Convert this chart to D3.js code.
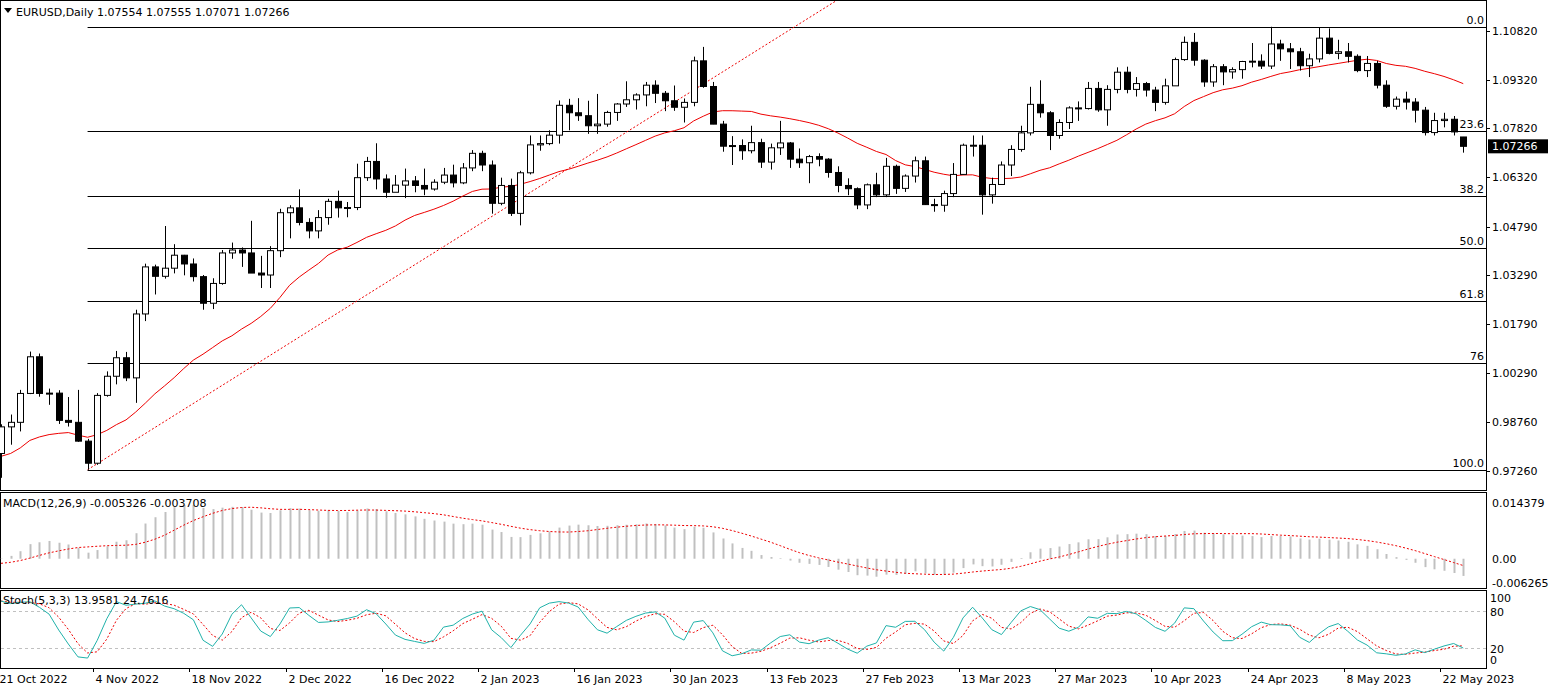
<!DOCTYPE html>
<html><head><meta charset="utf-8">
<script src="https://cdn.jsdelivr.net/npm/d3@7"></script>
<style>body{margin:0;background:#fff}text{font-family:"DejaVu Sans",sans-serif;font-size:11px}</style>
</head><body><svg id="c" width="1552" height="691"></svg>
<script>
// closes before the first visible bar, only used to warm up the indicators
const warmupCloses = [0.9837,0.9690,0.9607,0.9592,0.9738,0.9815,0.9802,0.9826,0.9985,0.9885,0.9793,0.9740,0.9703,0.9706,0.9703,0.9779,0.9720,0.9840,0.9857,0.9773,0.9779];

// daily bars [open, high, low, close], 21 Oct 2022 .. 24 May 2023 (no 26 Dec bar)
const bars = [
[0.9780,0.9870,0.9705,0.9862],[0.9862,0.9900,0.9807,0.9876],[0.9876,0.9976,0.9848,0.9965],[0.9965,1.0094,0.9963,1.0078],[1.0078,1.0088,0.9955,0.9965],
[0.9965,0.9980,0.9930,0.9966],[0.9966,0.9975,0.9871,0.9882],[0.9882,0.9954,0.9863,0.9876],[0.9876,0.9976,0.9816,0.9818],[0.9818,0.9825,0.9730,0.9750],
[0.9750,0.9966,0.9745,0.9959],[0.9959,1.0033,0.9955,1.0018],[1.0018,1.0096,0.9993,1.0075],[1.0075,1.0093,1.0003,1.0013],[1.0013,1.0223,0.9936,1.0210],
[1.0210,1.0365,1.0188,1.0355],[1.0355,1.0362,1.0270,1.0326],[1.0326,1.0481,1.0319,1.0351],[1.0351,1.0425,1.0335,1.0391],[1.0391,1.0392,1.0329,1.0364],
[1.0364,1.0381,1.0310,1.0325],[1.0325,1.0330,1.0223,1.0243],[1.0243,1.0320,1.0225,1.0304],[1.0304,1.0407,1.0300,1.0398],[1.0398,1.0430,1.0380,1.0407],
[1.0407,1.0415,1.0355,1.0398],[1.0398,1.0497,1.0351,1.0336],[1.0336,1.0389,1.0290,1.0330],[1.0330,1.0419,1.0290,1.0405],[1.0405,1.0534,1.0385,1.0522],
[1.0522,1.0545,1.0443,1.0537],[1.0537,1.0594,1.0483,1.0492],[1.0492,1.0505,1.0443,1.0466],[1.0466,1.0530,1.0443,1.0507],[1.0507,1.0565,1.0485,1.0557],
[1.0557,1.0590,1.0507,1.0537],[1.0537,1.0555,1.0508,1.0538],[1.0538,1.0673,1.0530,1.0630],[1.0630,1.0694,1.0620,1.0680],[1.0680,1.0736,1.0594,1.0626],
[1.0626,1.0640,1.0568,1.0585],[1.0585,1.0638,1.0590,1.0607],[1.0607,1.0658,1.0567,1.0620],[1.0620,1.0635,1.0585,1.0606],[1.0606,1.0658,1.0576,1.0595],
[1.0595,1.0625,1.0590,1.0616],[1.0616,1.0660,1.0610,1.0638],[1.0638,1.0670,1.0600,1.0614],[1.0614,1.0675,1.0610,1.0660],
[1.0660,1.0715,1.0650,1.0705],[1.0705,1.0713,1.0650,1.0669],[1.0669,1.0683,1.0519,1.0551],[1.0551,1.0630,1.0545,1.0606],[1.0606,1.0627,1.0512,1.0520],
[1.0520,1.0651,1.0483,1.0645],[1.0645,1.0760,1.0640,1.0731],[1.0731,1.0760,1.0713,1.0735],[1.0735,1.0776,1.0730,1.0761],[1.0761,1.0868,1.0735,1.0853],
[1.0853,1.0873,1.0776,1.0830],[1.0830,1.0875,1.0805,1.0821],[1.0821,1.0867,1.0765,1.0790],[1.0790,1.0888,1.0765,1.0795],[1.0795,1.0836,1.0787,1.0831],
[1.0831,1.0860,1.0805,1.0857],[1.0857,1.0927,1.0848,1.0870],[1.0870,1.0890,1.0840,1.0885],[1.0885,1.0925,1.0850,1.0915],[1.0915,1.0930,1.0860,1.0890],
[1.0890,1.0897,1.0835,1.0867],[1.0867,1.0914,1.0836,1.0847],[1.0847,1.0874,1.0800,1.0862],[1.0862,1.1003,1.0850,1.0990],[1.0990,1.1033,1.0907,1.0911],
[1.0911,1.0925,1.0795,1.0795],[1.0795,1.0805,1.0710,1.0727],[1.0727,1.0758,1.0669,1.0729],[1.0729,1.0748,1.0685,1.0713],[1.0713,1.0790,1.0705,1.0738],
[1.0738,1.0750,1.0660,1.0678],[1.0678,1.0735,1.0655,1.0722],[1.0722,1.0805,1.0700,1.0737],[1.0737,1.0740,1.0660,1.0687],[1.0687,1.0720,1.0660,1.0676],
[1.0676,1.0700,1.0613,1.0695],[1.0695,1.0705,1.0665,1.0687],[1.0687,1.0690,1.0630,1.0646],[1.0646,1.0665,1.0585,1.0606],[1.0606,1.0628,1.0576,1.0596],
[1.0596,1.0600,1.0533,1.0546],[1.0546,1.0612,1.0533,1.0608],[1.0608,1.0645,1.0570,1.0577],[1.0577,1.0691,1.0570,1.0665],[1.0665,1.0670,1.0580,1.0597],
[1.0597,1.0640,1.0586,1.0635],[1.0635,1.0695,1.0615,1.0682],[1.0682,1.0695,1.0546,1.0547],[1.0547,1.0565,1.0525,1.0545],[1.0545,1.0590,1.0525,1.0581],
[1.0581,1.0675,1.0570,1.0640],[1.0640,1.0735,1.0640,1.0730],[1.0730,1.0760,1.0695,1.0730],[1.0730,1.0760,1.0516,1.0577],[1.0577,1.0630,1.0550,1.0609],
[1.0609,1.0680,1.0610,1.0669],[1.0669,1.0730,1.0635,1.0717],[1.0717,1.0790,1.0710,1.0768],[1.0768,1.0910,1.0760,1.0856],[1.0856,1.0930,1.0815,1.0830],
[1.0830,1.0835,1.0715,1.0760],[1.0760,1.0810,1.0750,1.0800],[1.0800,1.0850,1.0780,1.0845],[1.0845,1.0865,1.0805,1.0843],[1.0843,1.0925,1.0840,1.0905],
[1.0905,1.0925,1.0833,1.0839],[1.0839,1.0915,1.0790,1.0902],[1.0902,1.0970,1.0890,1.0955],[1.0955,1.0972,1.0890,1.0902],[1.0902,1.0940,1.0880,1.0920],
[1.0920,1.0925,1.0880,1.0900],[1.0900,1.0910,1.0835,1.0862],[1.0862,1.0935,1.0855,1.0913],[1.0913,1.1000,1.0915,1.0994],[1.0994,1.1065,1.0990,1.1047],
[1.1047,1.1076,1.0975,1.0992],[1.0992,1.0995,1.0910,1.0925],[1.0925,1.0980,1.0910,1.0972],[1.0972,1.0980,1.0915,1.0956],[1.0956,1.0970,1.0935,1.0963],
[1.0963,1.0990,1.0935,1.0988],[1.0988,1.1045,1.0970,1.0989],[1.0989,1.1010,1.0965,1.0974],[1.0974,1.1095,1.0965,1.1042],[1.1042,1.1055,1.0990,1.1027],
[1.1027,1.1045,1.0965,1.1018],[1.1018,1.1030,1.0960,1.0975],[1.0975,1.1012,1.0940,1.0996],[1.0996,1.1092,1.0985,1.1060],[1.1060,1.1090,1.1010,1.1013],
[1.1013,1.1055,1.0995,1.1018],[1.1018,1.1045,1.0985,1.1004],[1.1004,1.1010,1.0955,1.0960],[1.0960,1.1005,1.0940,1.0982],[1.0982,1.0990,1.0905,1.0915],
[1.0915,1.0930,1.0845,1.0850],[1.0850,1.0880,1.0840,1.0872],[1.0872,1.0895,1.0840,1.0863],[1.0863,1.0875,1.0800,1.0838],[1.0838,1.0848,1.0760,1.0769],
[1.0769,1.0830,1.0760,1.0806],[1.0806,1.0830,1.0785,1.0810],[1.0810,1.0820,1.0760,1.0771],[1.07554,1.07555,1.07071,1.07266]
];

const priceTicks = [1.10820,1.09320,1.07820,1.06320,1.04790,1.03290,1.01790,1.00290,0.98760,0.97260];
const dateTicks = [["21 Oct 2022",0],["4 Nov 2022",10],["18 Nov 2022",20],["2 Dec 2022",30],["16 Dec 2022",40],["2 Jan 2023",50],
  ["16 Jan 2023",60],["30 Jan 2023",70],["13 Feb 2023",80],["27 Feb 2023",90],["13 Mar 2023",100],["27 Mar 2023",110],
  ["10 Apr 2023",120],["24 Apr 2023",130],["8 May 2023",140],["22 May 2023",150]];
const fibLevels = [0,23.6,38.2,50,61.8,76,100];
const fibLabels = ["0.0","23.6","38.2","50.0","61.8","76","100.0"];
const fibHigh = 1.1095, fibLow = 0.9730, fibStartBar = 9, fibEndBar = 82.5;
const macdTicks = [0.014379,0,-0.006265];
const stochTicks = [100,80,20,0];

const svg = d3.select("#c");
const axisX = 1486;
const N = bars.length;
const x = d3.scaleLinear().domain([0, 150]).range([1, 1444]);
const y = d3.scaleLinear().domain([0.97260, 1.10820]).range([471, 31]);

// ---- indicators
const allC = warmupCloses.concat(bars.map(b => b[3]));
const off = warmupCloses.length;
const sma = (arr, n, i) => d3.mean(arr.slice(i - n + 1, i + 1));
const ma = bars.map((b, i) => sma(allC, 21, i + off));
function ema(arr, n) { const k = 2 / (n + 1); let e = arr[0]; return arr.map(v => (e = v * k + e * (1 - k))); }
const e12 = ema(allC, 12), e26 = ema(allC, 26);
const macdAll = allC.map((v, i) => e12[i] - e26[i]);
const sigAll = macdAll.map((v, i) => i < 8 ? v : sma(macdAll, 9, i));
const macd = macdAll.slice(off), sig = sigAll.slice(off);
const kArr = bars.map((b, i) => {
  let num = 0, den = 0;
  for (let j = i - 2; j <= i; j++) {
    if (j < 0) continue;
    const s = bars.slice(Math.max(0, j - 4), j + 1);
    const lo = d3.min(s, d => d[2]), hi = d3.max(s, d => d[1]);
    num += bars[j][3] - lo; den += hi - lo;
  }
  return den ? 100 * num / den : 50;
});
const dArr = kArr.map((v, i) => d3.mean(kArr.slice(Math.max(0, i - 2), i + 1)));

// ---- frames
const panels = [[0, 490], [492, 588], [590, 668]];
panels.forEach(p => svg.append("rect").attr("x", 0.5).attr("y", p[0] + 0.5).attr("width", axisX).attr("height", p[1] - p[0])
  .attr("fill", "none").attr("stroke", "#000"));

// ---- fib
const main = svg.append("g");
main.append("clipPath").attr("id", "mc").append("rect").attr("x", 0).attr("y", 1).attr("width", axisX).attr("height", 489);
const mg = main.append("g").attr("clip-path", "url(#mc)");
fibLevels.forEach((l, k) => {
  const py = Math.round(y(fibHigh - (fibHigh - fibLow) * l / 100)) + 0.5;
  mg.append("line").attr("x1", x(fibStartBar)).attr("x2", axisX).attr("y1", py).attr("y2", py).attr("stroke", "#000");
  mg.append("text").attr("x", 1484).attr("y", py - 4).attr("text-anchor", "end").text(fibLabels[k]);
});
mg.append("line").attr("x1", x(fibStartBar)).attr("y1", y(fibLow))
  .attr("x2", x(fibStartBar) + (x(fibEndBar) - x(fibStartBar)) * 1.3)
  .attr("y2", y(fibLow) + (y(fibHigh) - y(fibLow)) * 1.3).attr("stroke", "#e00").attr("stroke-dasharray", "2,2");

// ---- MA
mg.append("path").datum(ma).attr("fill", "none").attr("stroke", "#e00").attr("stroke-width", 1)
  .attr("d", d3.line().x((d, i) => x(i)).y(d => y(d)));

// ---- candles
const cg = mg.selectAll(".c").data(bars).enter().append("g");
cg.append("line").attr("x1", (d, i) => Math.round(x(i)) + 0.5).attr("x2", (d, i) => Math.round(x(i)) + 0.5)
  .attr("y1", d => y(d[1])).attr("y2", d => y(d[2])).attr("stroke", "#000");
cg.append("rect").attr("x", (d, i) => Math.round(x(i)) - 2.5).attr("width", 6)
  .attr("y", d => y(Math.max(d[0], d[3]))).attr("height", d => Math.max(1, Math.abs(y(d[0]) - y(d[3]))))
  .attr("fill", d => d[3] >= d[0] ? "#fff" : "#000").attr("stroke", "#000");

// ---- price axis
priceTicks.forEach(p => {
  svg.append("line").attr("x1", axisX).attr("x2", axisX + 4).attr("y1", Math.round(y(p)) + 0.5).attr("y2", Math.round(y(p)) + 0.5).attr("stroke", "#000");
  svg.append("text").attr("x", 1492).attr("y", y(p) + 4).text(p.toFixed(5));
});
const last = bars[N - 1][3];
svg.append("rect").attr("x", axisX + 2).attr("y", y(last) - 7).attr("width", 60).attr("height", 14).attr("fill", "#000");
svg.append("text").attr("x", 1492).attr("y", y(last) + 4).attr("fill", "#fff").text(last.toFixed(5));

// header
svg.append("path").attr("d", "M4,8 L12,8 L8,13 Z").attr("fill", "#000");
svg.append("text").attr("x", 16).attr("y", 16).text("EURUSD,Daily  1.07554 1.07555 1.07071 1.07266");

// ---- MACD
const my = d3.scaleLinear().domain([-0.006265, 0.014379]).range([583, 503]);
svg.append("g").selectAll("line").data(macd).enter().append("line")
  .attr("x1", (d, i) => Math.round(x(i)) + 0.5).attr("x2", (d, i) => Math.round(x(i)) + 0.5)
  .attr("y1", my(0)).attr("y2", d => my(d)).attr("stroke", "#c0c0c0").attr("stroke-width", 2);
svg.append("path").datum(sig).attr("fill", "none").attr("stroke", "#e00").attr("stroke-dasharray", "2,2")
  .attr("d", d3.line().x((d, i) => x(i)).y(d => my(d)));
macdTicks.forEach(t => svg.append("text").attr("x", 1492).attr("y", my(t) + 4).text(t === 0 ? "0.00" : t.toFixed(6)));
svg.append("text").attr("x", 3).attr("y", 507).text("MACD(12,26,9) -0.005326 -0.003708");

// ---- Stochastic
const sy = d3.scaleLinear().domain([0, 100]).range([661, 598]);
[80, 20].forEach(l => svg.append("line").attr("x1", 1).attr("x2", axisX).attr("y1", Math.round(sy(l)) + 0.5).attr("y2", Math.round(sy(l)) + 0.5)
  .attr("stroke", "#c0c0c0").attr("stroke-dasharray", "3,3"));
svg.append("path").datum(dArr).attr("fill", "none").attr("stroke", "#e00").attr("stroke-dasharray", "2,2")
  .attr("d", d3.line().x((d, i) => x(i)).y(d => sy(d)));
svg.append("path").datum(kArr).attr("fill", "none").attr("stroke", "#20b2aa")
  .attr("d", d3.line().x((d, i) => x(i)).y(d => sy(d)));
stochTicks.forEach(t => svg.append("text").attr("x", 1490).attr("y", sy(t) + (t === 100 ? 4 : t === 0 ? 3 : 5)).text(t));
svg.append("text").attr("x", 3).attr("y", 604).text("Stoch(5,3,3) 13.9581 24.7616");

// ---- date axis
dateTicks.forEach(d => {
  const tx = Math.round(x(d[1])) - 3.5;
  svg.append("line").attr("x1", tx).attr("x2", tx).attr("y1", 668).attr("y2", 672).attr("stroke", "#000");
  svg.append("text").attr("x", tx + 2).attr("y", 683).text(d[0]);
});
</script></body></html>
